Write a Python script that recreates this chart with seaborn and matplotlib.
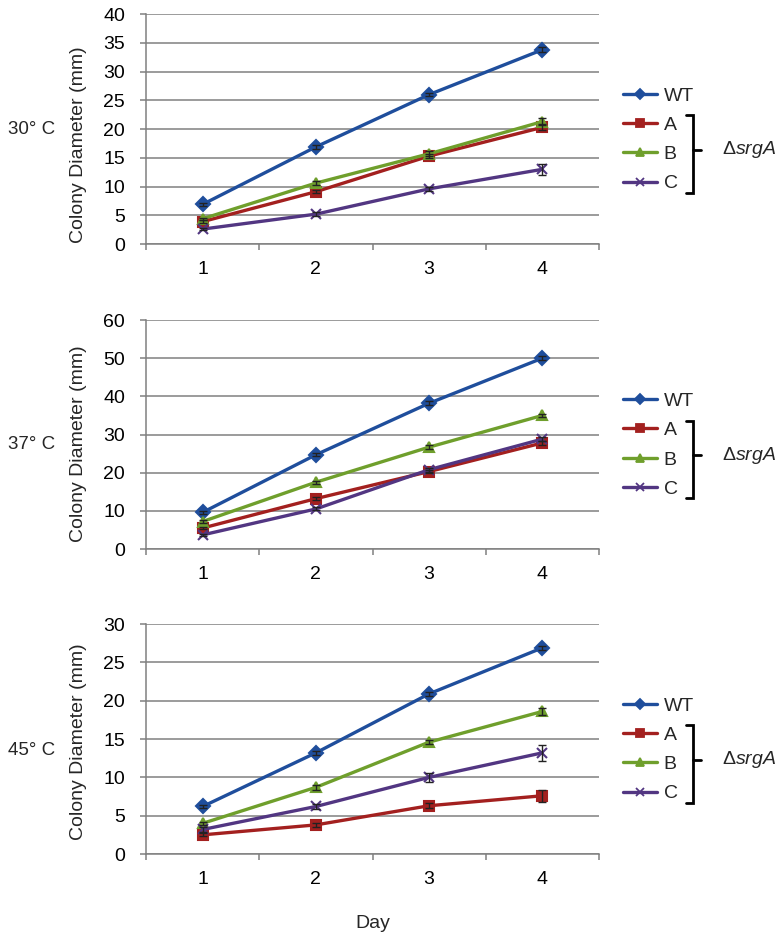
import numpy as np
import pandas as pd
import matplotlib
matplotlib.use("Agg")
import matplotlib.pyplot as plt
from matplotlib.lines import Line2D
import seaborn as sns

# data
days = [1, 2, 3, 4]
strains = ["WT", "A", "B", "C"]
temps = ["30° C", "37° C", "45° C"]

wt_30 = [6.9, 16.9, 26.0, 33.8]
a_30 = [3.9, 9.1, 15.3, 20.3]
b_30 = [4.4, 10.6, 15.7, 21.3]
c_30 = [2.6, 5.2, 9.6, 13.0]

wt_37 = [9.6, 24.7, 38.2, 50.0]
a_37 = [5.5, 13.2, 20.3, 27.8]
b_37 = [7.2, 17.5, 26.7, 35.0]
c_37 = [3.7, 10.5, 20.8, 28.8]

wt_45 = [6.2, 13.2, 20.9, 26.9]
a_45 = [2.5, 3.8, 6.3, 7.6]
b_45 = [4.0, 8.7, 14.6, 18.6]
c_45 = [3.2, 6.2, 10.0, 13.2]

# standard deviations (most hidden under markers)
err_wt_30 = [0.2, 0.3, 0.3, 0.4]
err_a_30 = [0.2, 0.3, 0.4, 0.5]
err_b_30 = [0.2, 0.3, 0.4, 0.6]
err_c_30 = [0.2, 0.3, 0.4, 1.0]
err_wt_37 = [0.3, 0.4, 0.5, 0.5]
err_a_37 = [0.3, 0.4, 0.5, 0.5]
err_b_37 = [0.3, 0.4, 0.5, 0.5]
err_c_37 = [0.3, 0.4, 0.5, 0.6]
err_wt_45 = [0.2, 0.3, 0.3, 0.3]
err_a_45 = [0.2, 0.3, 0.3, 0.8]
err_b_45 = [0.2, 0.3, 0.3, 0.4]
err_c_45 = [0.3, 0.3, 0.6, 1.0]

y_max = [40, 60, 30]
y_step = [5, 10, 5]

panels = [
    {"WT": (wt_30, err_wt_30), "A": (a_30, err_a_30), "B": (b_30, err_b_30), "C": (c_30, err_c_30)},
    {"WT": (wt_37, err_wt_37), "A": (a_37, err_a_37), "B": (b_37, err_b_37), "C": (c_37, err_c_37)},
    {"WT": (wt_45, err_wt_45), "A": (a_45, err_a_45), "B": (b_45, err_b_45), "C": (c_45, err_c_45)},
]

colors = {"WT": "#1F4E9C", "A": "#A3201F", "B": "#6F9F2C", "C": "#523682"}
markers = {"WT": "D", "A": "s", "B": "^", "C": "x"}

sns.set_theme(style="white")
plt.rcParams["font.family"] = ["Liberation Sans", "DejaVu Sans"]
plt.rcParams["mathtext.fontset"] = "custom"
plt.rcParams["mathtext.rm"] = "Liberation Sans"
plt.rcParams["mathtext.it"] = "Liberation Sans:italic"

fs = 14
fig = plt.figure(figsize=(7.82, 9.39), dpi=100)

# axes boxes in figure fraction (left, bottom, width, height)
boxes = [
    (0.1867, 0.7401, 0.5793, 0.2449),
    (0.1867, 0.4153, 0.5793, 0.2439),
    (0.1867, 0.0905, 0.5793, 0.2449),
]
ylabel_y = [0.43, 0.46, 0.49]
temp_y = [0.496, 0.457, 0.45]
grey = "#808080"

for i, panel in enumerate(panels):
    ax = fig.add_axes(boxes[i])
    rows = []
    for s in strains:
        vals, errs = panel[s]
        for d, v, e in zip(days, vals, errs):
            rows.append({"Day": d, "Diameter": v, "SD": e, "Strain": s})
    df = pd.DataFrame(rows)

    for s in strains:
        sub = df[df["Strain"] == s]
        sns.lineplot(data=sub, x="Day", y="Diameter", color=colors[s],
                     marker=markers[s], markersize=7, markeredgewidth=1.5,
                     markeredgecolor=colors[s], linewidth=2.4, ax=ax, zorder=3)
        ax.errorbar(sub["Day"], sub["Diameter"], yerr=sub["SD"], fmt="none",
                    ecolor="#222222", elinewidth=1, capsize=3, capthick=1, zorder=4)

    ax.set_xlim(0.5, 4.5)
    ax.set_ylim(0, y_max[i])
    ax.set_yticks(np.arange(0, y_max[i] + 1, y_step[i]))
    ax.set_xticks(days)
    ax.set_xticks([0.5, 1.5, 2.5, 3.5, 4.5], minor=True)
    ax.yaxis.grid(True, color=grey, linewidth=1.1, zorder=0)
    ax.set_axisbelow(True)
    for side in ["top", "right"]:
        ax.spines[side].set_visible(False)
    for side in ["left", "bottom"]:
        ax.spines[side].set_color(grey)
        ax.spines[side].set_linewidth(1.1)
    ax.tick_params(axis="x", which="major", length=0, pad=12, labelsize=fs, colors="black")
    ax.tick_params(axis="x", which="minor", length=4, width=1.1, color=grey, direction="out", bottom=True)
    ax.tick_params(axis="y", which="major", length=4, width=1.1, color=grey, direction="out",
                   left=True, pad=11, labelsize=fs, labelcolor="black")

    ax.set_xlabel("")
    ax.set_ylabel("Colony Diameter (mm)", fontsize=fs)
    ax.yaxis.set_label_coords(-0.130, ylabel_y[i])

    fig.text(8 / 782, boxes[i][1] + boxes[i][3] * temp_y[i], temps[i],
             fontsize=13.5, ha="left", va="center")

    handles = [Line2D([0], [0], color=colors[s], marker=markers[s], linewidth=2.4,
                      markersize=5.5, markeredgewidth=1.3, markeredgecolor=colors[s])
               for s in strains]
    ax.legend(handles, strains, loc="center left", bbox_to_anchor=(1.053, 0.454),
              frameon=False, fontsize=fs, handlelength=1.75, handletextpad=0.35,
              labelspacing=0.6, borderpad=0, borderaxespad=0, numpoints=1)

    # bracket grouping the deletion strains
    bx, sx, tx = 1.2075, 1.192, 1.225
    top_y, bot_y, mid_y = 0.561, 0.222, 0.409
    ax.plot([sx, bx, bx, sx], [top_y, top_y, bot_y, bot_y], color="black",
            linewidth=2, transform=ax.transAxes, clip_on=False, solid_joinstyle="miter")
    ax.plot([bx, tx], [mid_y, mid_y], color="black", linewidth=2,
            transform=ax.transAxes, clip_on=False)
    ax.text(1.2715, mid_y, r"$\Delta\it{srgA}$", transform=ax.transAxes,
            fontsize=fs, ha="left", va="center")

    if i == 2:
        ax.set_xlabel("Day", fontsize=fs, labelpad=20)

fig.savefig("out.png", dpi=100)
